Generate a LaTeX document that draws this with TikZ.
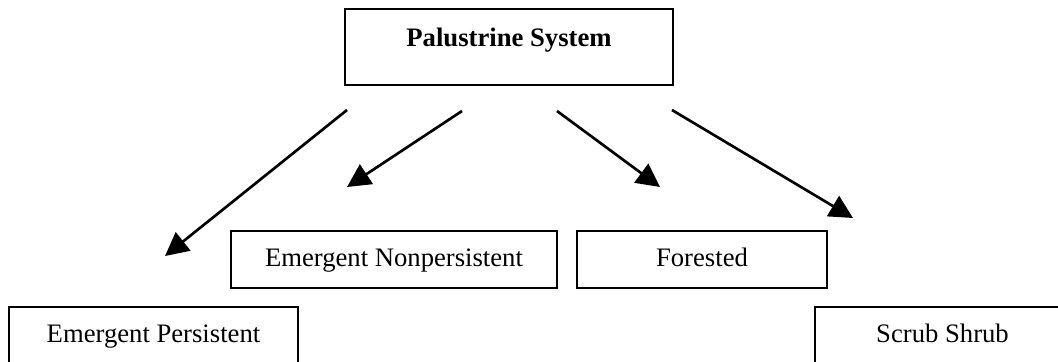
\documentclass[tikz,border=0pt]{standalone}
\usepackage{fontspec}
\setmainfont{Liberation Serif}
\usetikzlibrary{arrows.meta}

\begin{document}
\begin{tikzpicture}[x=0.45pt,y=-0.45pt,font=\fontsize{12}{14}\selectfont,
  cls/.style={draw,line width=1.2pt,inner sep=0pt,text height=0.75em,
    text depth=0.1em,minimum height=25.65pt},
  link/.style={-{Triangle[length=10.5pt,width=10.5pt]},line width=1.2pt}]
 \useasboundingbox (0,0) rectangle (1058,362);

 % top class, text sits in the upper part of the box
 \node[draw,line width=1.2pt,inner sep=0pt,text height=16.65pt,
   text depth=17.55pt,minimum width=147.6pt,anchor=base]
   (sys) at (509,46) {\textbf{Palustrine System}};

 \node[cls,minimum width=146.7pt] (np) at (394,259.5) {Emergent Nonpersistent};
 \node[cls,minimum width=112.5pt] (fo) at (702,259.5) {Forested};
 \node[cls,minimum width=130.05pt] (ep) at (153.5,335.5) {Emergent Persistent};
 \node[cls,minimum width=114.75pt] (ss) at (942.5,335.5) {Scrub Shrub};

 % arrows stop short of the boxes
 \coordinate (ep-in) at (165,256);
 \coordinate (np-in) at (347,187);
 \coordinate (fo-in) at (660,187);
 \coordinate (ss-in) at (853,218);
 \coordinate (ep-out) at (347,110);
 \coordinate (np-out) at (462,111);
 \coordinate (fo-out) at (557,111);
 \coordinate (ss-out) at (672,110);
 \draw[link] (ep-out) -- (ep-in);
 \draw[link] (np-out) -- (np-in);
 \draw[link] (fo-out) -- (fo-in);
 \draw[link] (ss-out) -- (ss-in);
\end{tikzpicture}
\end{document}
